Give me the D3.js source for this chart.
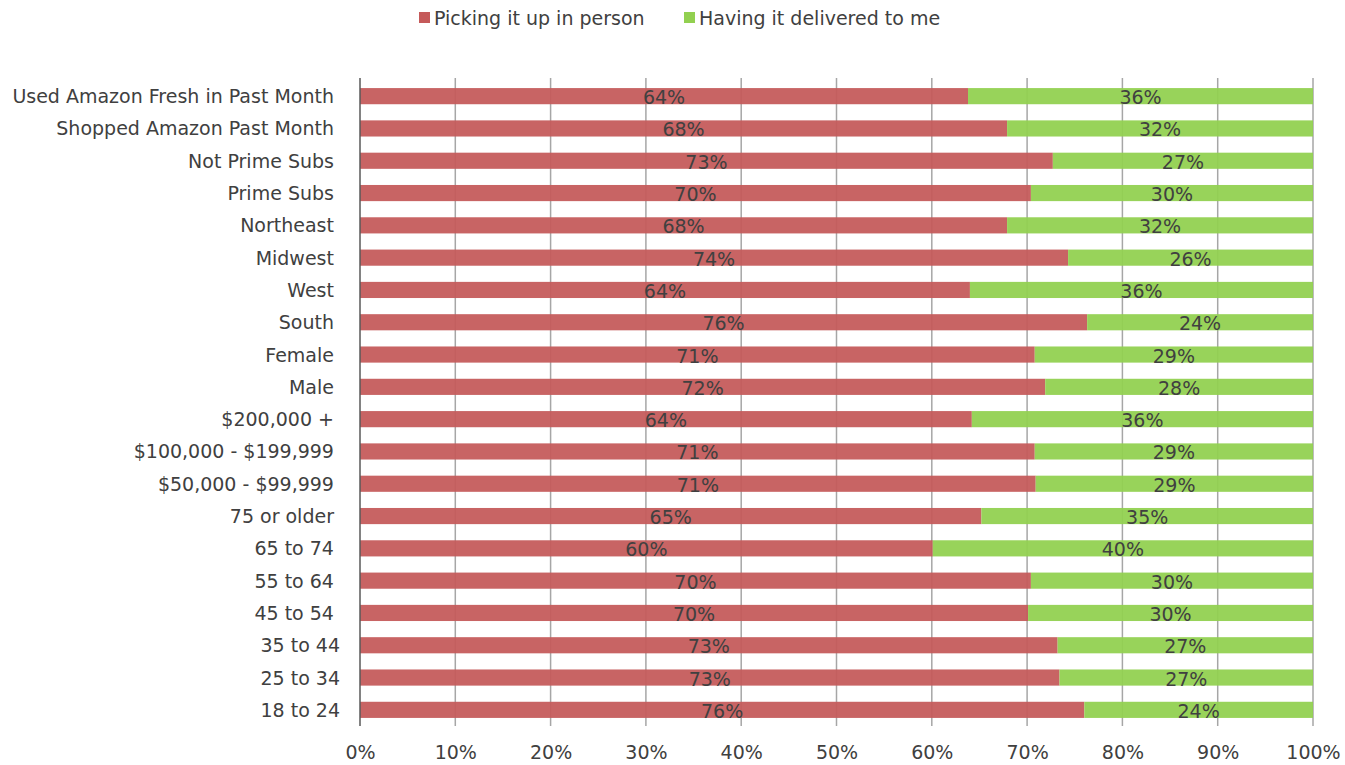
<!DOCTYPE html>
<html><head><meta charset="utf-8">
<script src="https://cdn.jsdelivr.net/npm/d3@7"></script>
<style>body{margin:0;background:#fff;}svg{display:block;font-family:"DejaVu Sans",Verdana,sans-serif;}</style>
</head><body>
<svg id="chart" width="1345" height="765"></svg>
<script>
const categories = ["Used Amazon Fresh in Past Month ","Shopped Amazon Past Month ","Not Prime Subs ","Prime Subs ","Northeast ","Midwest ","West ","South ","Female ","Male ","$200,000 + ","$100,000 - $199,999 ","$50,000 - $99,999 ","75 or older ","65 to 74 ","55 to 64 ","45 to 54 ","35 to 44","25 to 34","18 to 24"];
const pickup =    [63.8,67.9,72.7,70.4,67.9,74.3,64.0,76.3,70.8,71.9,64.2,70.8,70.9,65.2,60.1,70.4,70.1,73.2,73.4,76.0];
const delivered = [36.2,32.1,27.3,29.6,32.1,25.7,36.0,23.7,29.2,28.1,35.8,29.2,29.1,34.8,39.9,29.6,29.9,26.8,26.6,24.0];
const seriesNames = ["Picking it up in person","Having it delivered to me"];
const colors = ["#c55a5a","#92d050"];
const ticks = [0,10,20,30,40,50,60,70,80,90,100];

const svg = d3.select("#chart");
const pLeft = 360, pRight = 1313, pTop = 80, pBottom = 726;
const x = d3.scaleLinear().domain([0,100]).range([pLeft,pRight]);
const y = d3.scaleBand().domain(categories).range([pTop,pBottom]).paddingInner(0.5).paddingOuter(0.25);

// gridlines
svg.append("g").selectAll("line").data(ticks.slice(1)).join("line")
  .attr("x1",d=>x(d)).attr("x2",d=>x(d)).attr("y1",pTop-2).attr("y2",pBottom)
  .attr("stroke","#a6a6a6").attr("stroke-width",1.5);

const rows = categories.map((c,i)=>({c, p:pickup[i], d:delivered[i]}));
const g = svg.append("g");
g.selectAll("rect.p").data(rows).join("rect").attr("class","p")
  .attr("x",x(0)).attr("y",d=>y(d.c)).attr("width",d=>x(d.p)-x(0)).attr("height",y.bandwidth())
  .attr("fill",colors[0]).attr("fill-opacity",0.94);
g.selectAll("rect.d").data(rows).join("rect").attr("class","d")
  .attr("x",d=>x(d.p)).attr("y",d=>y(d.c)).attr("width",d=>x(d.p+d.d)-x(d.p)).attr("height",y.bandwidth())
  .attr("fill",colors[1]).attr("fill-opacity",0.94);

// axis line at 0
svg.append("line").attr("x1",x(0)).attr("x2",x(0)).attr("y1",pTop-2).attr("y2",pBottom)
  .attr("stroke","#595959").attr("stroke-width",1.5);

// value labels
const lab = svg.append("g").attr("font-size",19).attr("fill","#404040").attr("text-anchor","middle");
lab.selectAll("text.p").data(rows).join("text")
  .attr("x",d=>(x(0)+x(d.p))/2).attr("y",d=>y(d.c)+y.bandwidth()/2+8)
  .text(d=>Math.round(d.p)+"%");
lab.selectAll("text.d").data(rows).join("text")
  .attr("x",d=>(x(d.p)+x(d.p+d.d))/2).attr("y",d=>y(d.c)+y.bandwidth()/2+8)
  .text(d=>Math.round(d.d)+"%");

// category labels
svg.append("g").attr("font-size",19).attr("fill","#404040").attr("text-anchor","end")
  .selectAll("text").data(categories).join("text")
  .attr("x",340).attr("y",d=>y(d)+y.bandwidth()/2+7)
  .style("white-space","pre").text(d=>d);

// x tick labels
const xAxis = d3.axisBottom(x).tickValues(ticks).tickFormat(d=>d+"%").tickSize(0);
const ax = svg.append("g").attr("transform",`translate(0,${pBottom})`).call(xAxis);
ax.select(".domain").remove();
ax.selectAll("text").attr("font-size",19).attr("fill","#404040").attr("dy",0).attr("y",33)
  .attr("font-family","'DejaVu Sans',Verdana,sans-serif");

// legend
const legend = svg.append("g").attr("font-size",19).attr("fill","#404040");
const lx = [419, 684];
seriesNames.forEach((n,i)=>{
  legend.append("rect").attr("x",lx[i]).attr("y",12).attr("width",11).attr("height",11).attr("fill",colors[i]);
  legend.append("text").attr("x",lx[i]+15).attr("y",25).text(n);
});
</script>
</body></html>
